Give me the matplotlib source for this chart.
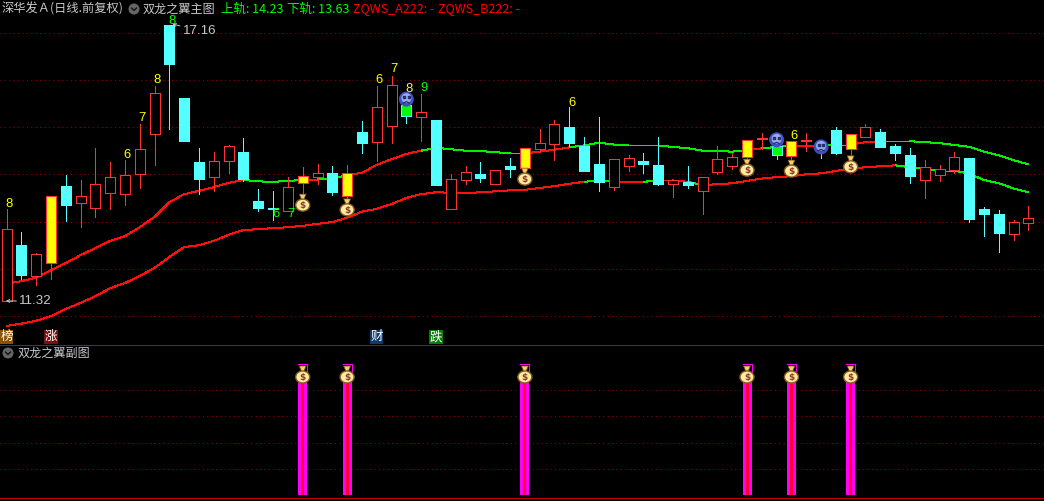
import matplotlib
matplotlib.use("Agg")
import matplotlib.pyplot as plt
from matplotlib.patches import Ellipse, Circle, Polygon

plt.rcParams['font.family'] = ['Noto Sans CJK SC', 'DejaVu Sans']

# ---------- data ----------
opens = [11.32,12.50,11.85,12.12,13.75,13.39,13.29,13.60,13.58,14.01,14.85,17.16,15.61,14.26,13.94,14.28,14.47,13.44,13.29,13.22,
         13.82,13.94,14.03,13.54,14.90,14.68,15.02,15.47,15.21,15.15,13.27,13.88,14.01,13.79,14.18,14.13,14.53,14.64,15.00,14.60,
         14.22,13.73,14.18,14.28,14.20,13.79,13.84,13.65,14.05,14.18,14.37,14.75,14.60,14.39,14.70,14.58,14.94,14.53,14.79,14.90,
         14.60,14.41,13.88,13.99,14.09,14.34,13.27,13.16,12.74,12.97]
closes = [12.84,11.87,12.31,13.54,13.35,13.54,13.79,13.94,13.99,14.53,15.72,16.33,14.70,13.90,14.28,14.60,13.90,13.29,13.27,13.73,
          13.96,14.03,13.63,14.03,14.66,15.42,15.89,15.23,15.32,13.77,13.90,14.05,13.92,14.09,14.11,14.56,14.66,15.06,14.66,14.07,
          13.84,14.32,14.34,14.22,13.79,13.88,13.77,13.94,14.32,14.37,14.73,14.76,14.41,14.70,14.71,14.53,14.45,14.85,15.00,14.58,
          14.45,13.96,14.15,14.11,14.37,13.05,13.16,12.76,12.99,13.08]
highs = [13.27,12.78,12.34,13.54,13.99,13.88,14.56,14.26,14.30,15.06,15.87,17.16,15.61,14.56,14.47,14.62,14.77,13.69,13.65,13.94,
         14.15,14.22,14.18,14.20,15.13,15.87,16.08,15.47,15.70,15.15,14.01,14.18,14.26,14.09,14.34,14.56,14.96,15.15,15.42,14.79,
         15.21,14.32,14.41,14.45,14.79,13.88,14.18,13.94,14.60,14.45,14.73,14.87,14.60,14.70,14.87,14.58,15.00,14.85,15.06,14.96,
         14.64,14.56,14.30,14.20,14.47,14.34,13.31,13.25,13.03,13.33]
lows = [11.32,11.78,11.66,11.78,13.01,12.88,13.10,13.27,13.35,13.71,14.20,14.96,14.70,13.58,13.65,14.03,13.86,13.22,13.03,13.22,
        13.60,13.79,13.56,13.46,14.45,14.28,14.66,15.09,14.70,13.77,13.27,13.79,13.84,13.79,13.94,14.09,14.47,14.30,14.60,14.07,
        13.65,13.67,14.07,14.03,13.77,13.52,13.71,13.16,14.01,14.11,14.30,14.53,14.32,14.26,14.49,14.34,14.43,14.41,14.79,14.58,
        14.30,13.82,13.50,13.86,14.03,12.99,12.69,12.36,12.61,12.82]
upper_band = [11.68,11.74,11.81,11.97,12.12,12.29,12.44,12.59,12.69,12.88,13.10,13.41,13.58,13.65,13.73,13.82,13.88,13.85,13.84,13.86,
              13.88,13.89,13.90,13.99,14.03,14.20,14.32,14.43,14.50,14.56,14.53,14.50,14.49,14.47,14.44,14.44,14.48,14.52,14.57,14.61,
              14.67,14.63,14.61,14.61,14.61,14.58,14.55,14.50,14.49,14.48,14.51,14.55,14.58,14.60,14.59,14.60,14.63,14.63,14.68,14.70,
              14.70,14.70,14.68,14.66,14.62,14.58,14.48,14.40,14.30,14.21]
lower_band = [10.79,10.84,10.90,11.00,11.15,11.28,11.42,11.59,11.70,11.85,12.02,12.25,12.46,12.50,12.59,12.72,12.82,12.84,12.86,12.88,
              12.91,12.95,12.99,13.08,13.21,13.27,13.37,13.50,13.58,13.62,13.61,13.60,13.62,13.64,13.66,13.67,13.71,13.75,13.80,13.84,
              13.87,13.85,13.83,13.84,13.87,13.87,13.84,13.77,13.79,13.81,13.86,13.91,13.94,13.96,14.00,14.02,14.07,14.12,14.15,14.17,
              14.19,14.15,14.11,14.08,14.08,14.01,13.88,13.81,13.70,13.62]
upper_green = [16,17,18,19,21,22,28,29,30,31,32,33,34,38,39,40,41,42,43,44,45,46,47,48,49,51,52,55,56,59,60,61,62,63,64,65,66,67,68]
lower_green = [39,40,43,46,60,61,62,63,64,65,66,67,68]
yellow_days = [3,20,23,35,50,53,57]
green_days = [27,52]
bag_days = [20,23,35,50,53,57]
bag_prices = [13.39,13.29,13.94,14.13,14.11,14.20]
face_days = [27,52,55]
face_prices = [15.59,14.73,14.58]
count_days = [0,8,9,10,11,25,26,27,28,38,53,18,19]
count_labels = ['8','6','7','8','8','6','7','8','9','6','6','6','7']
count_prices = [13.37,14.41,15.19,16.00,17.24,16.00,16.23,15.80,15.82,15.51,14.81,13.16,13.16]
count_colors = ['#ffff00']*4+['#00ff00']+['#ffff00']*3+['#00ff00','#ffff00','#ffff00','#00ff00','#00ff00']
grid_prices = [17,16,15,14,13,12,11]
sub_grid = [0.2,0.4,0.6,0.8]
sub_bar_value = 0.885
sub_box_value = 1.0
sub_bag_value = 0.916
tag_days = [0,3,25,29]
tag_labels = ['榜','涨','财','跌']
tag_colors = ['#8a5200','#7a0f0f','#0f3a6a','#0a7a0a']

assert all(len(a) == 70 for a in (opens, closes, highs, lows, upper_band, lower_band))

RED = '#ff3333'; CYAN = '#54ffff'; YEL = '#ffff00'; LINE_R = '#ff1010'; LINE_G = '#00f000'; GRID = '#a00000'
W, H = 1044, 501
DPI = 100
STEP = 14.81
X0 = 6.5
PX = 0.02116
fig = plt.figure(figsize=(W/DPI, H/DPI), dpi=DPI, facecolor='black')
ax = fig.add_axes([0, (H-344)/H, 1, 344/H], facecolor='black')
ax.set_xlim(-X0/STEP, (W-X0)/STEP)
ax.set_ylim(17.688-344*PX, 17.688)
ax.axis('off')
sub = fig.add_axes([0, (H-497)/H, 1, 152/H], facecolor='black')
sub.set_xlim(ax.get_xlim())
sub.set_ylim(-2/131, 150/131)
sub.axis('off')
lw = 72/DPI
dots = (0, (1, 3.4))

for g in grid_prices:
    ax.axhline(g, color=GRID, lw=lw, ls=dots, zorder=1)
for g in sub_grid:
    sub.axhline(g, color=GRID, lw=lw, ls=dots, zorder=1)

# bands
for band, greens in ((upper_band, upper_green), (lower_band, lower_green)):
    for i in range(69):
        ax.plot([i, i+1], [band[i], band[i+1]], color=LINE_G if i in greens else LINE_R, lw=lw,
                zorder=2, solid_capstyle='butt', antialiased=False)

# candles
bw = 10/STEP
for i in range(70):
    o, c, h, l = opens[i], closes[i], highs[i], lows[i]
    top, bot = max(o, c), min(o, c)
    if i in yellow_days:
        fc, ec, wick = YEL, RED, RED
    elif i in green_days:
        fc, ec, wick = '#00ff00', CYAN, CYAN
    elif c >= o:
        fc, ec, wick = 'black', RED, RED
    else:
        fc, ec, wick = CYAN, CYAN, CYAN
    ax.vlines(i, l, h, color=wick, lw=lw, zorder=3, antialiased=False)
    ax.bar(i, max(top-bot, PX), bottom=bot, width=bw, facecolor=fc, edgecolor=ec, lw=lw, zorder=4, antialiased=False)

def draw_bag(a, x, y, sx, sy):
    a.add_patch(Polygon([(x-3.5*sx, y+9*sy), (x+3.5*sx, y+9*sy), (x+1.5*sx, y+4.5*sy), (x+5*sx, y), (x-5*sx, y), (x-1.5*sx, y+4.5*sy)],
                        closed=True, fc='#f0d070', ec='#7a4a10', lw=0.5, zorder=6))
    a.add_patch(Ellipse((x, y-2*sy), 14*sx, 12*sy, fc='#ffec9c', ec='#8a5a20', lw=1.0, zorder=6))
    a.text(x, y-2.2*sy, '$', color='#8a3a30', fontsize=6.5, fontweight='bold', ha='center', va='center',
           family='DejaVu Sans', zorder=7)

def draw_face(a, x, y, sx, sy):
    a.add_patch(Ellipse((x, y), 15*sx, 15*sy, fc='#4050c0', ec='none', zorder=6))
    a.add_patch(Ellipse((x, y+1*sy), 10*sx, 10*sy, fc='#98a8ec', ec='none', zorder=6))
    a.plot([x-2.2*sx, x+2.2*sx], [y+2*sy, y+2*sy], ls='none', marker='s', ms=1.6, color='#20306a', zorder=7)
    a.plot([x-3*sx, x, x+3*sx], [y-4*sy, y-2.5*sy, y-4*sy], color='#20306a', lw=0.9, zorder=7)

for d, p in zip(bag_days, bag_prices):
    draw_bag(ax, d, p, 1/STEP, PX)
for d, p in zip(face_days, face_prices):
    draw_face(ax, d, p, 1/STEP, PX)

for d, s, p, col in zip(count_days, count_labels, count_prices, count_colors):
    ax.text(d+0.17, p, s, color=col, fontsize=9.4, ha='center', va='center', family='Liberation Sans', zorder=8)

# extreme labels
ax.annotate('17.16', xy=(11.2, highs[11]+0.02), xytext=(11.9, highs[11]-0.12), color='#c8c8c8', fontsize=9.6,
            va='center', ha='left', family='Liberation Sans',
            arrowprops=dict(arrowstyle='->', color='#c8c8c8', lw=0.7, shrinkA=0, shrinkB=0, mutation_scale=5), zorder=9)
ax.annotate('11.32', xy=(-0.05, lows[0]), xytext=(0.85, lows[0]), color='#c8c8c8', fontsize=9.6,
            va='center', ha='left', family='Liberation Sans',
            arrowprops=dict(arrowstyle='->', color='#c8c8c8', lw=0.7, shrinkA=0, shrinkB=0, mutation_scale=5), zorder=9)

# signal tags
for d, s, col in zip(tag_days, tag_labels, tag_colors):
    ax.text(d, 17.688-336.8*PX, s, color='white', fontsize=9, ha='center', va='center', zorder=9,
            bbox=dict(facecolor=col, edgecolor='none', pad=0.3))

# sub-chart
for d in bag_days:
    sub.bar(d, sub_bar_value, width=9/STEP, color='#ff00ff', zorder=3, antialiased=False)
    sub.bar(d, sub_bar_value, width=3/STEP, color='#ff0030', zorder=4, antialiased=False)
    sub.plot([d-4.5/STEP, d+4.5/STEP, d+4.5/STEP], [sub_box_value, sub_box_value, sub_bar_value],
             color='#ff00ff', lw=lw, zorder=3, antialiased=False)
    draw_bag(sub, d, sub_bag_value, 1/STEP, 1/131)

# header layer in pixels
ov = fig.add_axes([0, 0, 1, 1], facecolor='none')
ov.set_xlim(0, W); ov.set_ylim(H, 0); ov.axis('off')
ov.plot([0, W], [344.5, 344.5], color='#c00000', lw=lw, antialiased=False)
ov.plot([0, W], [497.5, 497.5], color='#c00000', lw=lw, antialiased=False)
def t(x, y, s, col, fs=9):
    ov.text(x, y, s, color=col, fontsize=fs, ha='left', va='center')
def icon(x, y):
    ov.add_patch(Circle((x, y), 5.5, fc='#666666', ec='none'))
    ov.plot([x-2.5, x, x+2.5], [y-1, y+1.5, y-1], color='#111111', lw=1.0)
t(2, 9, '深华发Ａ(日线.前复权)', '#c8c8c8', 8.8)
icon(134, 9)
t(143, 9, '双龙之翼主图', '#c8c8c8', 8.7)
t(221, 9, '上轨: 14.23', '#00ff00')
t(287, 9, '下轨: 13.63', '#00ff00')
t(353, 9, 'ZQWS_A222: -', '#ff0000')
t(438, 9, 'ZQWS_B222: -', '#ff0000')
icon(8, 353)
t(18, 353, '双龙之翼副图', '#c8c8c8', 8.7)

fig.savefig('out.png', dpi=DPI, facecolor='black')
